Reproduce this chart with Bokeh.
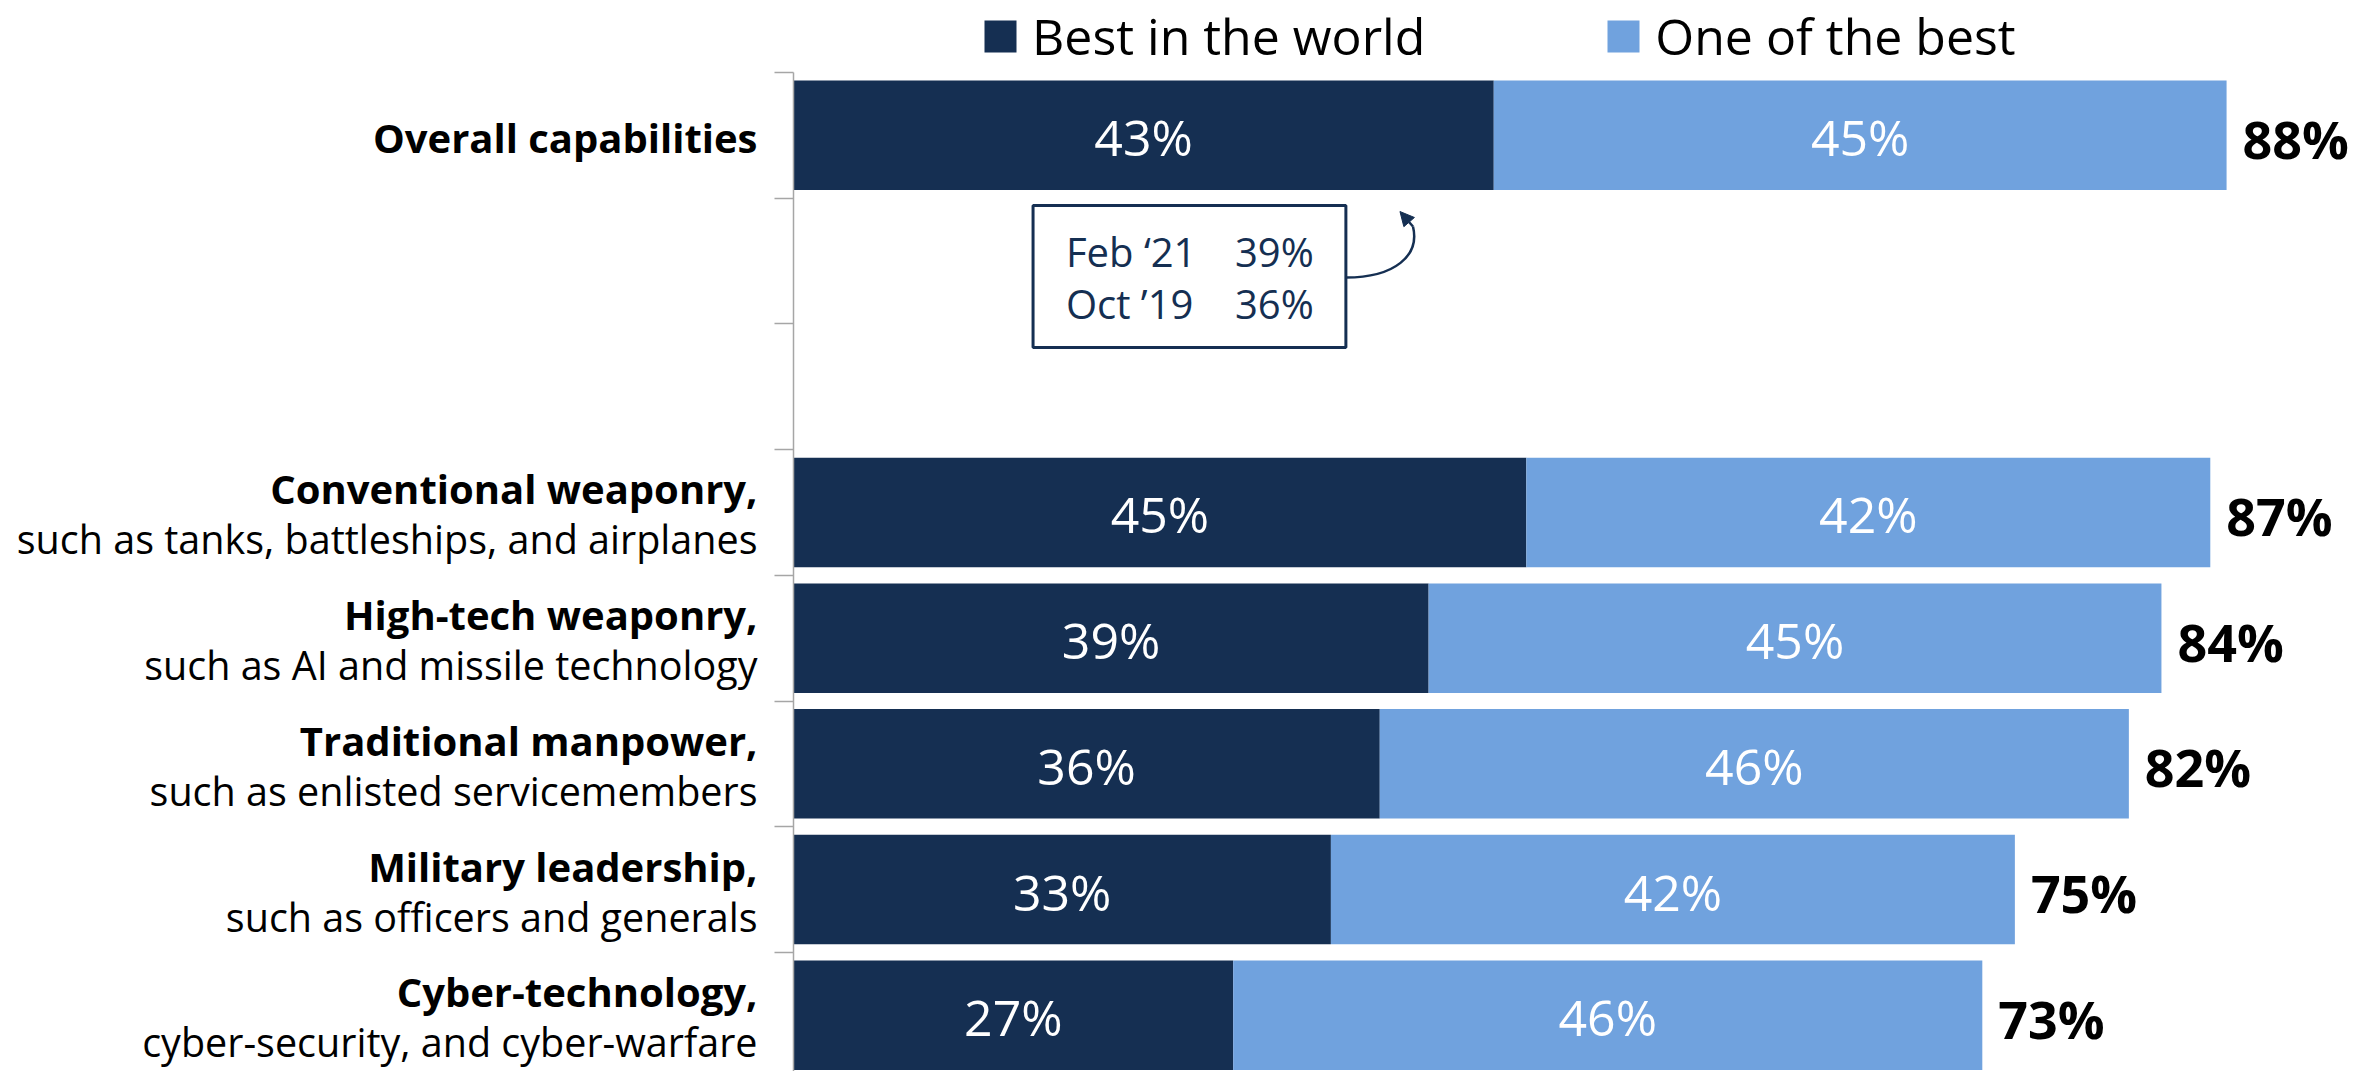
from bokeh.plotting import figure
from bokeh.models import (ColumnDataSource, Range1d, FixedTicker, Legend, LegendItem,
                          Arrow, NormalHead)
from bokeh.core.properties import value
from bokeh.embed import file_html
from bokeh.resources import INLINE

# ---------------- data ----------------
labels_bold = ["Overall capabilities", "Conventional weaponry,", "High-tech weaponry,",
               "Traditional manpower,", "Military leadership,", "Cyber-technology,"]
labels_sub = ["", "such as tanks, battleships, and airplanes", "such as AI and missile technology",
              "such as enlisted servicemembers", "such as officers and generals",
              "cyber-security, and cyber-warfare"]
best_in_world = [43, 45, 39, 36, 33, 27]
one_of_best = [45, 42, 45, 46, 42, 46]
totals = [88, 87, 84, 82, 75, 73]
series_names = ["Best in the world", "One of the best"]
trend_labels = ["Feb \u201821", "Oct \u201919"]
trend_values = [39, 36]

# ---------------- style ----------------
DARK = "#152F52"
LIGHT = "#70A2DE"
NAVY = "#152F52"
AXIS_GRAY = "#A6A6A6"
FONT = "Open Sans"

W, H = 2370, 1071
FRAME_L, AXIS_T = 793, 72
PX_PER_PCT = 16.285
SLOT_PX = 125.7

# row slots: overall first, then two empty slots, then the rest
slots = [0] + [3 + i for i in range(len(labels_bold) - 1)]
centers = [s + 0.5 for s in slots]
n_slots = 8

mid1 = [b / 2 for b in best_in_world]
mid2 = [b + o / 2 for b, o in zip(best_in_world, one_of_best)]

src = ColumnDataSource(dict(
    y=centers, best=best_in_world, one=one_of_best, total=totals,
    mid1=mid1, mid2=mid2,
    lab1=[f"{v}%" for v in best_in_world], lab2=[f"{v}%" for v in one_of_best],
    labt=[f"{v}%" for v in totals],
    bold=labels_bold,
    bold_off=[2 if s == "" else -23.5 for s in labels_sub],
))
sub_idx = [i for i, s in enumerate(labels_sub) if s]
sub_src = ColumnDataSource(dict(y=[centers[i] for i in sub_idx],
                                sub=[labels_sub[i] for i in sub_idx]))

p = figure(width=W, height=H, output_backend="svg", toolbar_location=None,
           title=None,
           x_range=Range1d(0, (W - FRAME_L) / PX_PER_PCT),
           y_range=Range1d((H - AXIS_T) / SLOT_PX, -AXIS_T / SLOT_PX),
           min_border_left=FRAME_L, min_border_top=0,
           min_border_right=0, min_border_bottom=0,
           x_axis_location=None)
p.outline_line_color = None
p.xgrid.visible = False
p.ygrid.visible = False
p.background_fill_color = "white"
p.border_fill_color = "white"

ax = p.yaxis[0]
ax.ticker = FixedTicker(ticks=list(range(n_slots + 1)))
ax.bounds = (0, n_slots)
ax.major_tick_out = 19
ax.major_tick_in = 0
ax.minor_tick_out = 0
ax.minor_tick_in = 0
ax.major_label_text_color = None
ax.axis_line_color = AXIS_GRAY
ax.axis_line_width = 1.5
ax.major_tick_line_color = AXIS_GRAY
ax.major_tick_line_width = 1.5

BAR_H = 0.871
r1 = p.hbar(y="y", left=0, right="best", height=BAR_H, source=src,
            fill_color=DARK, line_color=None)
r2 = p.hbar(y="y", left="best", right="total", height=BAR_H, source=src,
            fill_color=LIGHT, line_color=None)

# values inside bars
for xcol, tcol in (("mid1", "lab1"), ("mid2", "lab2")):
    p.text(x=xcol, y="y", text=tcol, source=src, text_color="white",
           text_font=value(FONT), text_font_size="50px", text_align="center",
           text_baseline="middle", y_offset=2)
# totals
p.text(x="total", y="y", text="labt", source=src, text_color="black",
       text_font=value(FONT), text_font_size="52px", text_font_style="bold",
       text_align="left", text_baseline="middle", x_offset=16, y_offset=3)

# category labels (outside the frame -> overlay level)
p.text(x=0, y="y", text="bold", source=src, text_color="black",
       text_font=value(FONT), text_font_size="40px", text_font_style="bold",
       text_align="right", text_baseline="middle", x_offset=-36, y_offset="bold_off",
       level="overlay")
p.text(x=0, y="y", text="sub", source=sub_src, text_color="black",
       text_font=value(FONT), text_font_size="39.5px",
       text_align="right", text_baseline="middle", x_offset=-36, y_offset=27,
       level="overlay")

# trend callout box
BOX_L, BOX_R, BOX_T, BOX_B = 14.71, 33.92, 1.058, 2.188
p.quad(left=[BOX_L], right=[BOX_R], top=[BOX_T], bottom=[BOX_B],
       fill_color="white", line_color=NAVY, line_width=3)
row_y = [1.428, 1.837]
p.text(x=[16.73] * 2, y=row_y, text=trend_labels, text_color=NAVY,
       text_font=value(FONT), text_font_size="40px", text_baseline="middle")
p.text(x=[27.11] * 2, y=row_y, text=[f"{v}%" for v in trend_values], text_color=NAVY,
       text_font=value(FONT), text_font_size="40px", text_baseline="middle")

# curved arrow from box to the overall bar
p.bezier(x0=[BOX_R], y0=[1.631], x1=[38.04], y1=[1.225],
         cx0=[36.94], cy0=[1.631], cx1=[38.47], cy1=[1.456],
         line_color=NAVY, line_width=2.5)
p.add_layout(Arrow(end=NormalHead(size=14, fill_color=NAVY, line_color=NAVY),
                   x_start=38.04, y_start=1.225, x_end=37.24, y_end=1.106,
                   line_color=NAVY, line_width=2.5))

legend = Legend(items=[LegendItem(label=series_names[0], renderers=[r1]),
                       LegendItem(label=series_names[1], renderers=[r2])],
                orientation="horizontal", location=(187, 1001),
                glyph_width=40, glyph_height=40, label_standoff=12, spacing=178,
                padding=0, margin=0, border_line_alpha=0, background_fill_alpha=0,
                label_text_font=FONT, label_text_font_size="50px", label_text_color="black")
p.add_layout(legend)

open("out.html", "w").write(file_html(p, INLINE))
